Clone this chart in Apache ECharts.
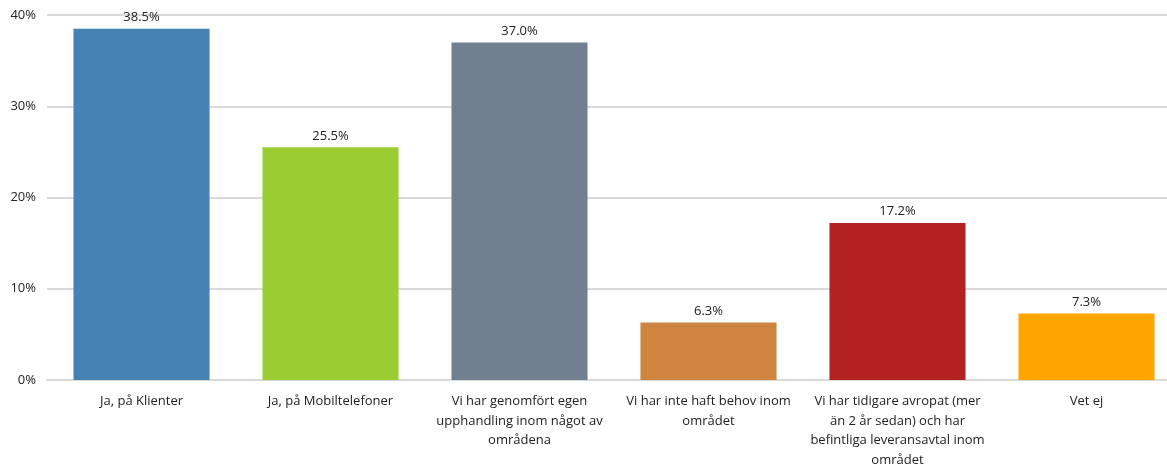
<!DOCTYPE html>
<html><head><meta charset="utf-8">
<script src="https://cdn.jsdelivr.net/npm/echarts@6/dist/echarts.min.js"></script>
<style>html,body{margin:0;padding:0;background:#fff}#c{width:1167px;height:466px}</style>
</head><body><div id="c"></div>
<script>
const categories = [
  "Ja, på Klienter",
  "Ja, på Mobiltelefoner",
  "Vi har genomfört egen\nupphandling inom något av\nområdena",
  "Vi har inte haft behov inom\nområdet",
  "Vi har tidigare avropat (mer\nän 2 år sedan) och har\nbefintliga leveransavtal inom\nområdet",
  "Vet ej"
];
const values = [38.5, 25.5, 37.0, 6.3, 17.2, 7.3];
const colors = ["#4682B4", "#9ACD32", "#708090", "#CD853F", "#B22222", "#FFA500"];
const yTicks = [0, 10, 20, 30, 40];

const chart = echarts.init(document.getElementById('c'), null, {renderer: 'canvas'});
const font = '"Open Sans", "Noto Sans", sans-serif';
chart.setOption({
  animation: false,
  textStyle: {fontFamily: font},
  grid: {left: 47, right: -14, top: 15, bottom: 86, containLabel: false, outerBoundsMode: 'none'},
  xAxis: {
    type: 'category',
    data: categories,
    axisTick: {show: false},
    axisLine: {lineStyle: {color: '#d9d9d9', width: 2}},
    axisLabel: {color: '#222', fontSize: 13, lineHeight: 19.5, margin: 12, interval: 0, fontFamily: font}
  },
  yAxis: {
    type: 'value',
    min: yTicks[0], max: yTicks[yTicks.length - 1], interval: 10,
    axisLine: {show: false},
    axisTick: {show: false},
    splitLine: {lineStyle: {color: '#d9d9d9', width: 2}},
    axisLabel: {color: '#222', fontSize: 13, margin: 11, formatter: v => v + '%', fontFamily: font}
  },
  series: [{
    type: 'bar',
    barWidth: '72%',
    data: values.map((v, i) => ({value: v, itemStyle: {color: colors[i]}})),
    label: {show: true, position: 'top', distance: 5, color: '#222', fontSize: 13, fontFamily: font,
      formatter: p => p.value.toFixed(1) + '%'}
  }]
});
</script></body></html>
